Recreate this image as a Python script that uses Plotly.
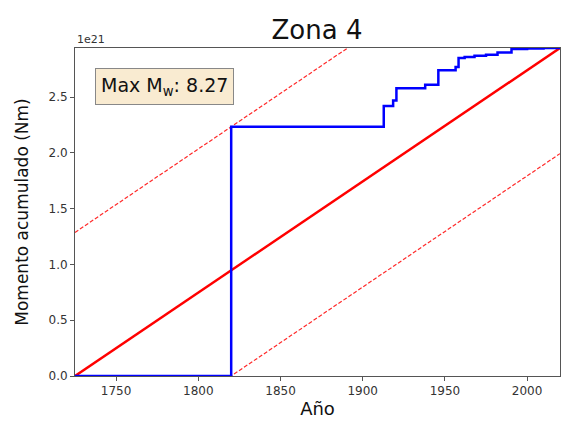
import plotly.graph_objects as go

# Cumulative seismic moment (units of 1e21 N·m), step function
years = [1725, 1820, 1912.8, 1918.5, 1920.5, 1938, 1946, 1956.5, 1958.3, 1962, 1968,
         1975, 1982, 1990.5, 2000, 2010, 2020]
cum_moment = [0.0, 2.234, 2.42, 2.47, 2.58, 2.61, 2.74, 2.77, 2.85, 2.86, 2.87,
              2.88, 2.90, 2.93, 2.935, 2.94, 2.94]

x_ticks = [1750, 1800, 1850, 1900, 1950, 2000]
y_ticks = [0.0, 0.5, 1.0, 1.5, 2.0, 2.5]
title_text = "Zona 4"
max_mw = "8.27"

x0, x1 = years[0], years[-1]
total = cum_moment[-1]

def trend(x):
    return total * (x - x0) / (x1 - x0)

# envelope offsets: largest deviation above/below the trend line
dev_above = max(c - trend(y) for y, c in zip(years, cum_moment))
dev_below = min(cum_moment[i - 1] - trend(years[i]) for i in range(1, len(years)))

fig = go.Figure()
fig.add_trace(go.Scatter(x=[x0, x1], y=[trend(x0) + dev_above, trend(x1) + dev_above],
                         mode="lines", line=dict(color="#ff2a2a", width=1.2, dash="4px,2px"),
                         showlegend=False))
fig.add_trace(go.Scatter(x=[x0, x1], y=[trend(x0) + dev_below, trend(x1) + dev_below],
                         mode="lines", line=dict(color="#ff2a2a", width=1.2, dash="4px,2px"),
                         showlegend=False))
fig.add_trace(go.Scatter(x=[x0, x1], y=[trend(x0), trend(x1)], mode="lines",
                         line=dict(color="#ff0000", width=2.5), showlegend=False))
fig.add_trace(go.Scatter(x=years, y=cum_moment, mode="lines", line_shape="hv",
                         line=dict(color="#0000ff", width=2.5), showlegend=False))

axis_common = dict(showgrid=False, zeroline=False, showline=True, linecolor="#555555",
                   linewidth=1, mirror=True, ticks="outside", ticklen=4, automargin=False,
                   tickcolor="#555555", tickfont=dict(family="DejaVu Sans", size=12, color="#333333"))

fig.update_xaxes(range=[x0, x1], tickvals=x_ticks,
                 title=dict(text="Año", font=dict(family="DejaVu Sans", size=18, color="#111111"), standoff=4),
                 **axis_common)
fig.update_yaxes(range=[0, total], tickvals=y_ticks, tickformat=".1f",
                 title=dict(text="Momento acumulado (Nm)", font=dict(family="DejaVu Sans", size=17, color="#111111")),
                 **axis_common)

fig.add_annotation(xref="paper", yref="paper", x=0, y=1, xanchor="left", yanchor="bottom",
                   text="1e21", showarrow=False, yshift=0,
                   font=dict(family="DejaVu Sans", size=11, color="#333333"))
fig.add_annotation(xref="paper", yref="paper", x=0.042, y=0.94, xanchor="left", yanchor="top",
                   text="Max M<sub>w</sub>: " + max_mw, showarrow=False,
                   font=dict(family="DejaVu Sans", size=19, color="#111111"),
                   bgcolor="rgba(245,222,179,0.6)", bordercolor="#888888", borderwidth=1, borderpad=5)

fig.update_layout(
    width=561, height=425, autosize=False,
    margin=dict(l=75, r=1, t=48, b=49),
    paper_bgcolor="white", plot_bgcolor="white",
    title=dict(text=title_text, x=0.565, xanchor="center", y=0.93, yanchor="middle",
               font=dict(family="DejaVu Sans", size=26, color="#111111")),
)

fig.write_html("out.html", config={"displayModeBar": False},
               post_script="document.body.style.margin='0';document.body.style.overflow='hidden';")
